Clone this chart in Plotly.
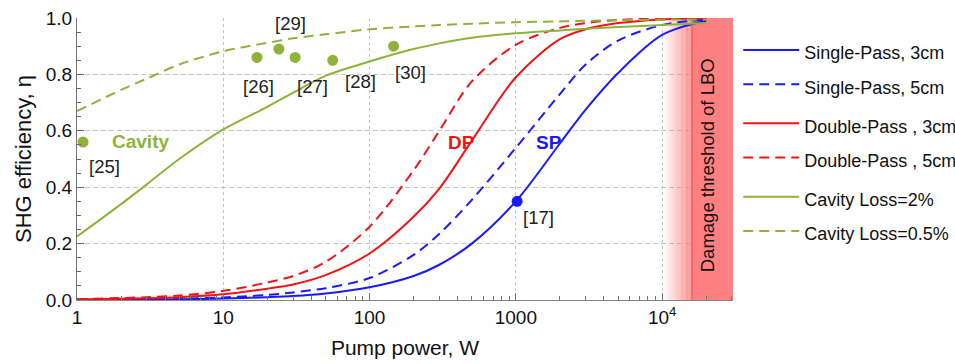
import math
import plotly.graph_objects as go

# ---------------- data ----------------
power = [1, 2, 3, 5, 10, 20, 30, 50, 100, 200, 300, 500, 1000, 2000, 3000, 5000, 10000, 20000]

sp_3cm = [0.0005, 0.001, 0.0015, 0.0025, 0.005, 0.01, 0.014, 0.023, 0.045, 0.085, 0.125, 0.20,
          0.35, 0.555, 0.675, 0.805, 0.94, 0.99]
sp_5cm = [0.001, 0.002, 0.003, 0.005, 0.009, 0.018, 0.027, 0.042, 0.078, 0.16, 0.235, 0.355,
          0.54, 0.73, 0.835, 0.92, 0.975, 0.995]
dp_3cm = [0.002, 0.004, 0.006, 0.01, 0.02, 0.04, 0.055, 0.088, 0.165, 0.295, 0.395, 0.565,
          0.79, 0.925, 0.96, 0.982, 0.995, 0.999]
dp_5cm = [0.003, 0.007, 0.01, 0.016, 0.032, 0.062, 0.085, 0.135, 0.26, 0.46, 0.60, 0.775,
          0.905, 0.965, 0.982, 0.993, 0.998, 1.0]
cav_2 = [0.225, 0.34, 0.41, 0.50, 0.605, 0.685, 0.735, 0.795, 0.846, 0.89, 0.91, 0.93,
         0.946, 0.956, 0.962, 0.968, 0.975, 0.982]
cav_05 = [0.67, 0.745, 0.785, 0.835, 0.882, 0.912, 0.928, 0.942, 0.96, 0.97, 0.975, 0.98,
          0.985, 0.988, 0.99, 0.992, 0.994, 0.995]

# experimental points
cav_ref_power = [1.1, 17, 24, 31, 56, 146]
cav_ref_eff = [0.56, 0.86, 0.89, 0.86, 0.85, 0.90]
cav_ref_labels = ["[25]", "[26]", "[29]", "[27]", "[28]", "[30]"]
sp_ref_power = [1020]
sp_ref_eff = [0.35]
sp_ref_labels = ["[17]"]

x_tickvals = [1, 10, 100, 1000, 10000]
x_ticktext = ["1", "10", "100", "1000", "10<sup>4</sup>"]
y_tickvals = [0.0, 0.2, 0.4, 0.6, 0.8, 1.0]

damage_start = 10000      # where the shading begins
damage_threshold = 16000  # fully shaded from here
x_max = 30500

# ---------------- styles ----------------
BLUE = "#1a1aff"
RED = "#f01414"
GREEN = "#8db33a"
FONT = "Liberation Sans, Arial, sans-serif"
DASH = "10px,6px"

fig = go.Figure()

series = [
    ("Single-Pass, 3cm", sp_3cm, BLUE, "solid", "sp"),
    ("Single-Pass, 5cm", sp_5cm, BLUE, DASH, "sp"),
    ("Double-Pass , 3cm", dp_3cm, RED, "solid", "dp"),
    ("Double-Pass , 5cm", dp_5cm, RED, DASH, "dp"),
    ("Cavity Loss=2%", cav_2, GREEN, "solid", "cav"),
    ("Cavity Loss=0.5%", cav_05, GREEN, DASH, "cav"),
]
for name, ys, col, dash, grp in series:
    fig.add_trace(go.Scatter(
        x=power, y=ys, mode="lines",
        name=f'<span style="font-size:18px">{name}</span>', legendgroup=grp,
        line=dict(color=col, width=2, dash=dash, shape="spline", smoothing=0.9),
        hoverinfo="skip"))

fig.add_trace(go.Scatter(
    x=cav_ref_power, y=cav_ref_eff, mode="markers", showlegend=False,
    marker=dict(color=GREEN, size=11), hoverinfo="skip"))
fig.add_trace(go.Scatter(
    x=sp_ref_power, y=sp_ref_eff, mode="markers", showlegend=False,
    marker=dict(color=BLUE, size=11), hoverinfo="skip"))

# ---------------- damage threshold band ----------------
shapes = []
n = 24
l0, l1 = math.log10(damage_start), math.log10(damage_threshold)
for i in range(n):
    a0 = 10 ** (l0 + (l1 - l0) * i / n)
    a1 = 10 ** (l0 + (l1 - l0) * (i + 1) / n)
    op = ((i + 0.5) / n) ** 1.2
    shapes.append(dict(type="rect", xref="x", yref="y", x0=a0, x1=a1, y0=0, y1=1,
                       fillcolor=f"rgba(255,128,128,{op:.3f})", line=dict(width=0),
                       layer="between"))
shapes.append(dict(type="rect", xref="x", yref="y", x0=damage_threshold, x1=x_max, y0=0, y1=1,
                   fillcolor="rgb(255,128,128)", line=dict(width=0), layer="between"))
shapes.append(dict(type="line", xref="x", yref="y", x0=damage_threshold, x1=damage_threshold,
                   y0=0, y1=1, line=dict(color="rgba(235,95,95,0.6)", width=2), layer="between"))

# ---------------- annotations ----------------
ann = []
label_pos = [(1.55, 0.474), (17.3, 0.757), (28.6, 0.98), (41.0, 0.757), (87, 0.775), (189, 0.805)]
for (lx, ly), t in zip(label_pos, cav_ref_labels):
    ann.append(dict(x=math.log10(lx), y=ly, text=t, showarrow=False,
                    font=dict(family=FONT, size=18.5, color="#222")))
ann.append(dict(x=math.log10(1420), y=0.291, text=sp_ref_labels[0], showarrow=False,
                font=dict(family=FONT, size=18.5, color="#222")))
ann.append(dict(x=math.log10(2.7), y=0.562, text="<b>Cavity</b>", showarrow=False,
                font=dict(family=FONT, size=19, color=GREEN)))
ann.append(dict(x=math.log10(426), y=0.559, text="<b>DP</b>", showarrow=False,
                font=dict(family=FONT, size=19, color=RED)))
ann.append(dict(x=math.log10(1690), y=0.557, text="<b>SP</b>", showarrow=False,
                font=dict(family=FONT, size=19, color=BLUE)))
ann.append(dict(x=math.log10(20500), y=0.477, text="Damage threshold of LBO", showarrow=False,
                textangle=-90, font=dict(family=FONT, size=18.5, color="#111")))

fig.update_layout(
    width=955, height=364,
    margin=dict(l=77, r=222, t=18, b=64, autoexpand=False),
    paper_bgcolor="white", plot_bgcolor="white",
    font=dict(family=FONT, size=19, color="#111"),
    shapes=shapes, annotations=ann,
    legend=dict(x=1.008, xanchor="left", y=0.965, yanchor="top",
                font=dict(family=FONT, size=24, color="#111"),
                tracegroupgap=5, itemwidth=56, maxheight=340,
                bgcolor="rgba(0,0,0,0)"),
)

fig.update_xaxes(
    type="log", range=[0, math.log10(x_max)], automargin=False,
    tickvals=x_tickvals, ticktext=x_ticktext,
    ticks="inside", ticklen=7, tickcolor="#777",
    minor=dict(ticks="inside", ticklen=4, tickcolor="#777", dtick="D1", showgrid=False),
    showgrid=True, gridcolor="#c4c4c4", griddash="3px,3px", gridwidth=1,
    showline=True, linecolor="#888", linewidth=1,
    zeroline=False,
    tickfont=dict(family=FONT, size=19, color="#111"),
    title=dict(text="Pump power, W", font=dict(family=FONT, size=21, color="#111"), standoff=13),
)
fig.update_yaxes(
    range=[0, 1.0], tickvals=y_tickvals, tickformat=".1f", automargin=False,
    ticks="inside", ticklen=7, tickcolor="#666",
    minor=dict(ticks="inside", ticklen=4, tickcolor="#666", dtick=0.05, showgrid=False),
    showgrid=True, gridcolor="#c4c4c4", griddash="5px,3px", gridwidth=1,
    showline=True, linecolor="#777", linewidth=1,
    zeroline=False,
    tickfont=dict(family=FONT, size=19, color="#111"),
    title=dict(text="SHG efficiency, η", font=dict(family=FONT, size=22, color="#111"), standoff=8),
)

fig.write_html("out.html", config={"displayModeBar": False},
               post_script="document.body.style.margin='0';")
